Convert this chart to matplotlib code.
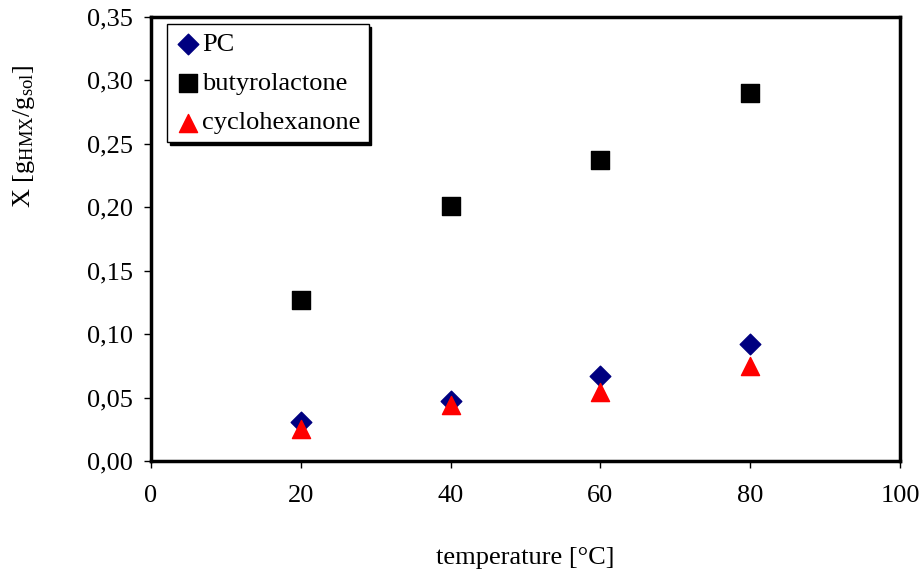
import matplotlib
matplotlib.use("Agg")
import matplotlib.pyplot as plt
from matplotlib.ticker import FuncFormatter, MultipleLocator

plt.rcParams['font.family'] = ['Liberation Serif', 'DejaVu Serif']
plt.rcParams['mathtext.fontset'] = 'custom'
plt.rcParams['mathtext.rm'] = 'Liberation Serif'
plt.rcParams['mathtext.it'] = 'Liberation Serif:italic'

temperature = [20, 40, 60, 80]
pc = [0.031, 0.047, 0.067, 0.092]
butyrolactone = [0.127, 0.201, 0.237, 0.290]
cyclohexanone = [0.025, 0.044, 0.054, 0.075]

fig = plt.figure(figsize=(9.23, 5.74), dpi=100)
ax = fig.add_axes([0.1636, 0.1969, 0.975 - 0.1636, 0.9704 - 0.1969])

ax.scatter(temperature, pc, marker='D', s=110, color='#000080', label='PC', zorder=3)
ax.scatter(temperature, butyrolactone, marker='s', s=150, color='black', label='butyrolactone', zorder=3)
ax.scatter(temperature, cyclohexanone, marker='^', s=170, color='#ff0000', label='cyclohexanone', zorder=3)

ax.set_xlim(0, 100)
ax.set_ylim(0, 0.35)
ax.xaxis.set_major_locator(MultipleLocator(20))
ax.yaxis.set_major_locator(MultipleLocator(0.05))
ax.yaxis.set_major_formatter(FuncFormatter(lambda v, p: f"{v:.2f}".replace('.', ',')))
ax.xaxis.set_major_formatter(FuncFormatter(lambda v, p: f"{v:.0f}"))
for s in ax.spines.values():
    s.set_linewidth(2.5)
ax.tick_params(direction='out', length=5, width=1, labelsize=19, pad=8)
ax.tick_params(axis='x', pad=12)

ax.set_xlabel('temperature [°C]', fontsize=19, labelpad=29)
ax.set_ylabel(r'X [g$_{\mathrm{HMX}}$/g$_{\mathrm{sol}}$]', fontsize=19)
ax.yaxis.set_label_coords(-0.152, 0.73)

leg = ax.legend(loc='upper left', bbox_to_anchor=(0.014, 0.995), fontsize=19, frameon=True,
                fancybox=False, shadow={'color': 'black', 'alpha': 1.0}, edgecolor='black',
                framealpha=1, handletextpad=0.05, labelspacing=0.6, borderpad=0.3,
                handlelength=1.0, scatterpoints=1, borderaxespad=0.2)
leg.get_frame().set_linewidth(1.0)

fig.savefig('out.png', dpi=100)
